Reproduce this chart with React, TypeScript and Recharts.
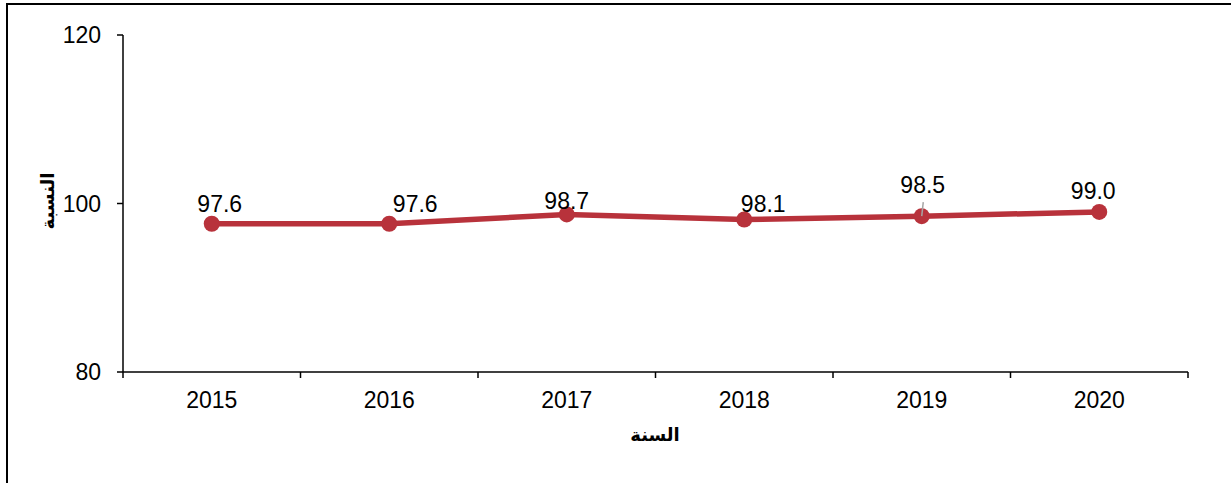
import React from 'react';
import { LineChart, Line, XAxis, YAxis, LabelList, Label } from 'recharts';

const years = ['2015', '2016', '2017', '2018', '2019', '2020'];
const ratio = [97.6, 97.6, 98.7, 98.1, 98.5, 99.0];
const yTicks = [80, 100, 120];

// label nudges (dx, dy of baseline from the point), as placed in the source chart
const labelShift: [number, number][] = [
  [8, -11.5],
  [26, -11.5],
  [0, -5],
  [19, -8],
  [1, -23],
  [-6, -13],
];

const RED = '#B8323B';
const FONT = '"Liberation Sans", Arial, sans-serif';
const AR_FONT = '"DejaVu Sans", sans-serif';

const data = years.map((y, i) => ({ x: i + 0.5, year: y, value: ratio[i] }));
const xTicks: number[] = [];
for (let i = 0; i <= years.length; i++) {
  xTicks.push(i);
  if (i < years.length) xTicks.push(i + 0.5);
}

const XTick = (props: any) => {
  const { x, y, payload } = props;
  const v = payload.value;
  if (Number.isInteger(v)) {
    return <line x1={x} x2={x} y1={y} y2={y + 6} stroke="#000" strokeWidth={1.5} />;
  }
  return (
    <text x={x} y={y + 36} textAnchor="middle" fontSize={23} fontFamily={FONT} fill="#000">
      {years[Math.floor(v)]}
    </text>
  );
};

const renderLabel = (props: any) => {
  const { x, y, value, index } = props;
  const [dx, dy] = labelShift[index] || [0, -12];
  return (
    <g>
      {index === 4 && (
        <line x1={x} y1={y} x2={x + 1.5} y2={y - 14} stroke="#a6a6a6" strokeWidth={1.5} />
      )}
      <text x={x + dx} y={y + dy} textAnchor="middle" fontSize={23} fontFamily={FONT} fill="#000">
        {Number(value).toFixed(1)}
      </text>
    </g>
  );
};

export default function App() {
  return (
    <div style={{ position: 'absolute', left: 0, top: 0, width: 1231, height: 483, background: '#fff', overflow: 'hidden' }}>
      <div
        style={{
          position: 'absolute',
          left: 6,
          top: 3,
          width: 1240,
          height: 500,
          borderLeft: '2px solid #000',
          borderTop: '2px solid #000',
        }}
      />
      <LineChart
        width={1231}
        height={483}
        data={data}
        margin={{ top: 35, right: 43, bottom: 0, left: 0 }}
        style={{ position: 'absolute', left: 0, top: 0 }}
      >
        <XAxis
          dataKey="x"
          type="number"
          domain={[0, years.length]}
          ticks={xTicks}
          interval={0}
          height={111}
          tickLine={false}
          tickSize={0}
          tickMargin={0}
          axisLine={{ stroke: '#000', strokeWidth: 1.5 }}
          tick={<XTick />}
        >
          <Label
            content={() => (
              <text x={655} y={441} textAnchor="middle" fontSize={18} fontWeight="bold" fontFamily={AR_FONT} fill="#000">
                السنة
              </text>
            )}
          />
        </XAxis>
        <YAxis
          domain={[80, 120]}
          ticks={yTicks}
          width={123}
          tickSize={6}
          tickMargin={16}
          axisLine={{ stroke: '#000', strokeWidth: 1.5 }}
          tickLine={{ stroke: '#000', strokeWidth: 1.5 }}
          tick={{ fill: '#000', fontSize: 23, fontFamily: FONT }}
        >
          <Label
            content={() => (
              <text
                transform="translate(54,201) rotate(-90)"
                textAnchor="middle"
                fontSize={18}
                fontWeight="bold"
                fontFamily={AR_FONT}
                fill="#000"
              >
                النسبة
              </text>
            )}
          />
        </YAxis>
        <Line
          type="linear"
          dataKey="value"
          stroke={RED}
          strokeWidth={5.5}
          dot={{ r: 8, fill: RED, stroke: 'none' }}
          activeDot={false}
          isAnimationActive={false}
        >
          <LabelList dataKey="value" content={renderLabel} />
        </Line>
      </LineChart>
    </div>
  );
}
